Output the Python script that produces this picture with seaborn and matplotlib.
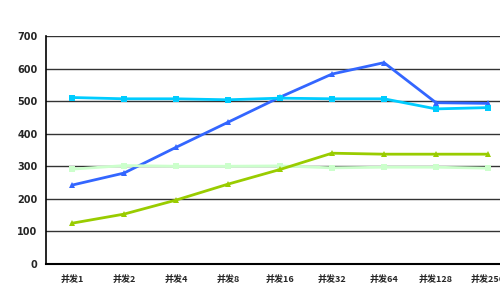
import matplotlib
matplotlib.use("Agg")
import matplotlib.pyplot as plt
import seaborn as sns
import pandas as pd
import numpy as np

categories = ["并发1", "并发2", "并发4", "并发8", "并发16", "并发32", "并发64", "并发128", "并发256"]
series_a = [242, 279, 358, 435, 512, 583, 618, 495, 493]   # blue, triangles
series_b = [511, 507, 507, 504, 509, 507, 507, 476, 480]   # cyan, squares
series_c = [291, 302, 300, 300, 301, 295, 297, 297, 294]   # light green, squares
series_d = [125, 153, 196, 245, 290, 340, 337, 337, 337]   # yellow-green, triangles
series_names = ["A", "B", "C", "D"]
y_ticks = [0, 100, 200, 300, 400, 500, 600, 700]

rows = []
for name, vals in zip(series_names, [series_a, series_b, series_c, series_d]):
    for i, v in enumerate(vals):
        rows.append({"x": i, "value": v, "series": name})
df = pd.DataFrame(rows)

sns.set_style("white")
plt.rcParams['font.family'] = ['Noto Sans CJK SC', 'DejaVu Sans']

fig = plt.figure(figsize=(5.0, 3.02), dpi=100)
ax = fig.add_axes([0.092, 0.126, 0.936, 0.755])

palette = {"A": "#3366FF", "B": "#00CCFF", "C": "#CCFFCC", "D": "#99CC00"}
markers = {"A": "^", "B": "s", "C": "s", "D": "^"}
sns.lineplot(data=df, x="x", y="value", hue="series", style="series",
             palette=palette, markers=markers, dashes=False, linewidth=2,
             markersize=5, markeredgewidth=0, legend=False, ax=ax, zorder=3)

ax.set_xlim(-0.5, len(categories) - 0.5)
ax.set_ylim(0, 700)
ax.set_yticks(y_ticks)
ax.set_yticklabels([str(t) for t in y_ticks], fontsize=7, fontweight="bold",
                   family=['DejaVu Sans'])
ax.set_xticks(range(len(categories)))
ax.set_xticklabels(categories, fontsize=6.5, fontweight="bold")
ax.set_xticks(np.arange(0.5, len(categories) - 0.5, 1), minor=True)
ax.tick_params(axis="x", which="major", length=0, pad=8)
ax.tick_params(axis="x", which="minor", length=3, direction="in", color="#808080")
ax.tick_params(axis="y", length=0, pad=6)
ax.set_xlabel("")
ax.set_ylabel("")
ax.grid(axis="y", color="#333333", linewidth=1, zorder=0)
for s in ["left", "bottom"]:
    ax.spines[s].set_color("black")
ax.spines["left"].set_linewidth(1.2)
ax.spines["bottom"].set_linewidth(1.5)
ax.spines["top"].set_visible(False)
ax.spines["right"].set_visible(False)

fig.savefig("out.png", dpi=100)
